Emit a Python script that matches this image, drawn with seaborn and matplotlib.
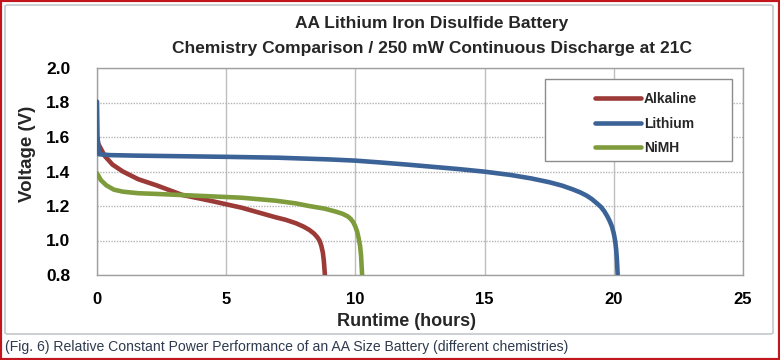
import pandas as pd
import seaborn as sns
import matplotlib.pyplot as plt
from matplotlib.patches import Rectangle, FancyBboxPatch
from matplotlib.lines import Line2D

# discharge curves (hours, volts)
alk_hours = [0, 0.05, 0.3, 0.6, 1.0, 1.6, 2.3, 3.3, 4.4, 5.6, 6.9, 7.3, 7.7, 8.0, 8.22, 8.4,
             8.52, 8.61, 8.68, 8.74, 8.78, 8.82]
alk_volts = [1.60, 1.56, 1.49, 1.44, 1.40, 1.355, 1.32, 1.264, 1.23, 1.19, 1.135, 1.12, 1.10,
             1.08, 1.061, 1.04, 1.02, 1.0, 0.97, 0.93, 0.88, 0.80]

li_hours = [0, 0.02, 0.08, 0.5, 1.5, 3, 5, 7, 9, 10, 11, 12, 13, 14, 15, 16, 16.8, 17.5,
            18.0, 18.4, 18.7, 18.95, 19.15, 19.35, 19.5, 19.63, 19.75, 19.85, 19.93, 20.0,
            20.05, 20.09, 20.12, 20.15]
li_volts = [1.805, 1.60, 1.50, 1.495, 1.492, 1.489, 1.485, 1.48, 1.47, 1.463, 1.452, 1.44, 1.427,
            1.414, 1.399, 1.38, 1.36, 1.338, 1.318, 1.297, 1.279, 1.26, 1.24, 1.215, 1.195,
            1.17, 1.14, 1.11, 1.08, 1.04, 1.0, 0.95, 0.89, 0.80]

nimh_hours = [0, 0.15, 0.36, 0.65, 1.0, 1.6, 2.3, 3.5, 4.7, 5.6, 6.9, 7.7, 8.2, 8.8, 9.25, 9.5,
              9.7, 9.82, 9.92, 10.0, 10.07, 10.13, 10.18, 10.22, 10.26]
nimh_volts = [1.39, 1.35, 1.32, 1.295, 1.283, 1.274, 1.27, 1.262, 1.254, 1.248, 1.231, 1.215,
              1.20, 1.185, 1.167, 1.155, 1.14, 1.125, 1.105, 1.08, 1.05, 1.01, 0.97, 0.91, 0.80]

chems = ['Alkaline', 'Lithium', 'NiMH']
colors = ['#9B3A36', '#3B6397', '#7F9C3D']
x_ticks = [0, 5, 10, 15, 20, 25]
y_ticks = [0.8, 1.0, 1.2, 1.4, 1.6, 1.8, 2.0]

df = pd.concat([
    pd.DataFrame({'hours': alk_hours, 'volts': alk_volts, 'chem': 'Alkaline'}),
    pd.DataFrame({'hours': li_hours, 'volts': li_volts, 'chem': 'Lithium'}),
    pd.DataFrame({'hours': nimh_hours, 'volts': nimh_volts, 'chem': 'NiMH'}),
])

sns.set_theme(style="white")
plt.rcParams['font.family'] = ['Liberation Sans', 'DejaVu Sans']

W, H = 780, 360
fig = plt.figure(figsize=(W / 100, H / 100), dpi=100)
ax = fig.add_axes([97 / W, 1 - 275 / H, (743 - 97) / W, (275 - 68) / H])

# outer red border and grey chart box
fig.patches.append(Rectangle((0, 0), 1, 1, transform=fig.transFigure, fill=False,
                             edgecolor='#C0161C', linewidth=3, zorder=0))
fig.patches.append(FancyBboxPatch((5 / W, 1 - 334 / H), (773 - 5) / W, (334 - 5) / H,
                                  boxstyle="round,pad=0,rounding_size=0.004",
                                  transform=fig.transFigure, fill=False,
                                  edgecolor='#C4C8CC', linewidth=1.2, zorder=0))

sns.lineplot(data=df, x='hours', y='volts', hue='chem', hue_order=chems,
             palette=colors, estimator=None, sort=False, linewidth=3.3,
             legend=False, ax=ax, zorder=3)
for ln in ax.get_lines():
    ln.set_solid_joinstyle('round')

ax.set_xlim(0, 25)
ax.set_ylim(0.8, 2.0)
ax.set_xticks(x_ticks)
ax.set_yticks(y_ticks)
ax.set_xticklabels([str(v) for v in x_ticks], fontsize=12, fontweight='bold')
ax.set_yticklabels([f'{v:.1f}' for v in y_ticks], fontsize=12.5, fontweight='bold')
ax.tick_params(axis='both', length=0, colors='black')
ax.tick_params(axis='y', pad=19)
ax.tick_params(axis='x', pad=12)
ax.set_xlabel('')
ax.set_ylabel('')

ax.xaxis.grid(True, color='#BEBEBE', linewidth=1, linestyle='-')
ax.yaxis.grid(True, color='#B4B4B4', linewidth=1, linestyle=(0, (1, 1)))
ax.set_axisbelow(True)
for s in ax.spines.values():
    s.set_color('#A0A0A0')
    s.set_linewidth(1)

fig.text(406 / W, 1 - 321 / H, 'Runtime (hours)', ha='center', va='center',
         fontsize=13, fontweight='bold')
fig.text(28 / W, 1 - 154 / H, 'Voltage (V)', ha='center', va='center', rotation=90,
         fontsize=13.5, fontweight='bold')

fig.text(432 / W, 1 - 28 / H, 'AA Lithium Iron Disulfide Battery', ha='center',
         va='baseline', fontsize=12.5, fontweight='bold')
fig.text(432 / W, 1 - 53 / H, 'Chemistry Comparison / 250 mW Continuous Discharge at 21C',
         ha='center', va='baseline', fontsize=12.5, fontweight='bold')

fig.text(5 / W, 1 - 347 / H,
         '(Fig. 6) Relative Constant Power Performance of an AA Size Battery (different chemistries)',
         ha='left', va='center', fontsize=10.1, color='#2E3A4E')

# legend box
fig.patches.append(Rectangle((545 / W, 1 - 161 / H), (732 - 545) / W, (161 - 79) / H,
                             transform=fig.transFigure, facecolor='white',
                             edgecolor='#8C8C8C', linewidth=1, zorder=5))
handles = [Line2D([], [], color=c, linewidth=3.3) for c in colors]
leg = fig.legend(handles, chems, loc='upper left', bbox_to_anchor=(584 / W, 1 - 81 / H),
                 frameon=False, handlelength=3.3, handletextpad=0.2, labelspacing=0.75,
                 prop={'weight': 'bold', 'size': 10}, borderpad=0.3)
leg.set_zorder(6)

fig.savefig('out.png', dpi=100)
